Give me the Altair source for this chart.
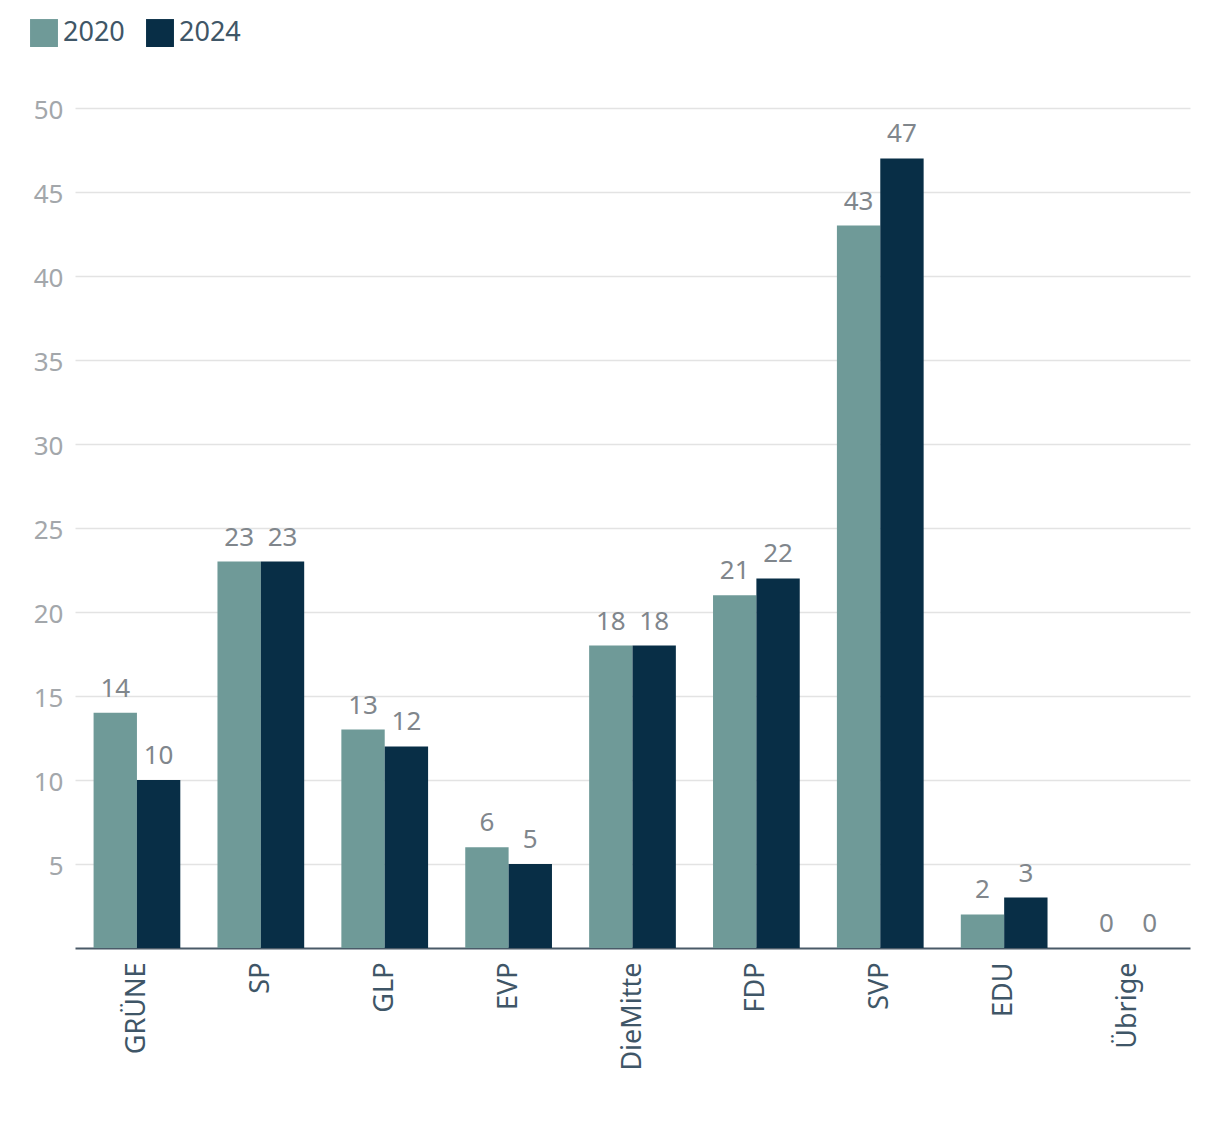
import altair as alt
import pandas as pd

parties = ["GRÜNE", "SP", "GLP", "EVP", "DieMitte", "FDP", "SVP", "EDU", "Übrige"]
v2020 = [14, 23, 13, 6, 18, 21, 43, 2, 0]
v2024 = [10, 23, 12, 5, 18, 22, 47, 3, 0]
years = ["2020", "2024"]
colors = ["#6f9a98", "#082e46"]
yticks = [5, 10, 15, 20, 25, 30, 35, 40, 45, 50]

rows = []
for p, a, b in zip(parties, v2020, v2024):
    rows.append({"Partei": p, "Jahr": years[0], "Sitze": a})
    rows.append({"Partei": p, "Jahr": years[1], "Sitze": b})
df = pd.DataFrame(rows)

FONT = "Noto Sans"

x = alt.X("Partei:N", sort=parties, title=None,
          scale=alt.Scale(paddingInner=0.3, paddingOuter=0.15),
          axis=alt.Axis(labelAngle=-90, labelFontSize=27, labelColor="#3f5667",
                        labelPadding=14, ticks=False, domainColor="#4a5a68",
                        domainWidth=2, labelFont=FONT, grid=False))
y = alt.Y("Sitze:Q", title=None, scale=alt.Scale(domain=[0, 50], nice=False),
          axis=alt.Axis(values=yticks, labelFontSize=26, labelColor="#a3a7ab",
                        labelPadding=12, labelOffset=2, ticks=False, domain=False,
                        gridColor="#e3e3e3", gridWidth=1.5, labelFont=FONT))
xo = alt.XOffset("Jahr:N", sort=years, scale=alt.Scale(paddingInner=0))

bars = alt.Chart(df).mark_bar().encode(
    x=x, y=y, xOffset=xo,
    color=alt.Color("Jahr:N", sort=years,
                    scale=alt.Scale(domain=years, range=colors),
                    legend=alt.Legend(title=None, orient="none", direction="horizontal",
                                      legendX=-45, legendY=-89, symbolType="square",
                                      symbolSize=780, symbolStrokeWidth=0,
                                      labelFontSize=27, labelColor="#3f5667",
                                      labelFont=FONT, columnPadding=21, labelOffset=5)),
)

labels = alt.Chart(df).mark_text(baseline="bottom", dy=-11, fontSize=26,
                                 color="#80868c", font=FONT).encode(
    x=alt.X("Partei:N", sort=parties), y="Sitze:Q", xOffset=xo, text="Sitze:Q")

chart = (bars + labels).properties(
    width=1115, height=840,
    autosize=alt.AutoSizeParams(type="none"),
    padding={"left": 67, "top": 100, "right": 22, "bottom": 170},
).configure(font=FONT).configure_view(stroke=None)

chart.save("out.html", embed_options={"renderer": "svg", "actions": False})
